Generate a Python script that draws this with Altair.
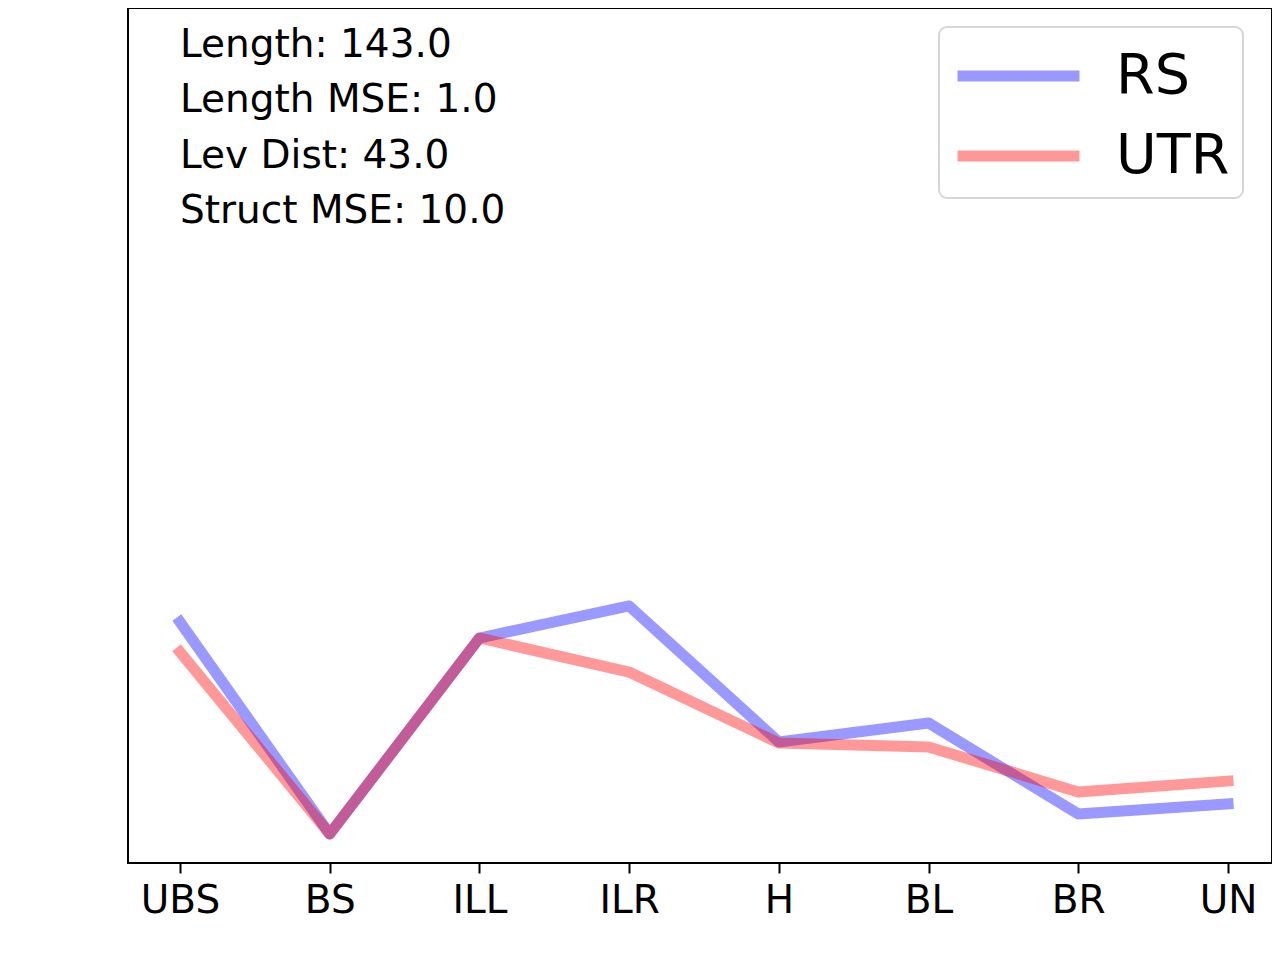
import altair as alt
import pandas as pd

categories = ["UBS", "BS", "ILL", "ILR", "H", "BL", "BR", "UN"]
rs_values = [27.93, 3.36, 26.07, 29.78, 14.02, 16.22, 5.68, 6.84]
utr_values = [24.45, 3.36, 26.07, 22.13, 13.90, 13.44, 8.23, 9.50]
series_names = ["RS", "UTR"]
series_colors = ["#0000ff", "#ff0000"]
annotation_lines = ["Length: 143.0", "Length MSE: 1.0", "Lev Dist: 43.0", "Struct MSE: 10.0"]

rows = []
for name, vals in zip(series_names, [rs_values, utr_values]):
    for i, (c, v) in enumerate(zip(categories, vals)):
        rows.append({"category": c, "value": v, "series": name, "idx": i})
df = pd.DataFrame(rows)

FONT = "DejaVu Sans"

lines = alt.Chart(df).mark_line(
    strokeWidth=11, opacity=0.4, strokeCap="square", strokeJoin="round"
).encode(
    x=alt.X("category:N", sort=categories,
            scale=alt.Scale(type="point", range=[52, 1100], padding=0),
            axis=alt.Axis(title=None, labelAngle=0, domain=False)),
    y=alt.Y("value:Q", scale=alt.Scale(domain=[0, 99.07], nice=False, zero=False), axis=None),
    color=alt.Color("series:N", sort=series_names,
                    scale=alt.Scale(domain=series_names, range=series_colors),
                    legend=alt.Legend(title=None, orient="none", legendX=811, legendY=19,
                                      symbolType="M-1,0H3", symbolSize=61 * 61,
                                      symbolStrokeWidth=11, symbolOpacity=0.4,
                                      labelFontSize=55.6, labelFont=FONT, labelColor="black",
                                      labelOffset=92, padding=13, strokeColor="#d6d6d6",
                                      cornerRadius=8, fillColor="white", rowPadding=15)),
    order=alt.Order("idx:Q"),
)

text = alt.Chart(pd.DataFrame({"a": [0]})).mark_text(
    text=annotation_lines, align="left", baseline="alphabetic",
    font=FONT, fontSize=39, lineHeight=55.3, color="black"
).encode(x=alt.value(52), y=alt.value(49))

chart = alt.layer(lines, text).properties(
    width=1144, height=855,
    padding={"left": 120, "top": 0, "right": 0, "bottom": 88},
    autosize=alt.AutoSizeParams(type="none"),
).configure_axis(
    labelFontSize=39, labelFont=FONT, labelColor="black",
    tickColor="black", tickWidth=2, tickSize=10,
    domainColor="black", domainWidth=2, labelPadding=8, grid=False,
).configure_view(
    stroke="black", strokeWidth=2
).configure_legend(strokeWidth=2)

chart.save("out.html", embed_options={"renderer": "svg", "actions": False})
